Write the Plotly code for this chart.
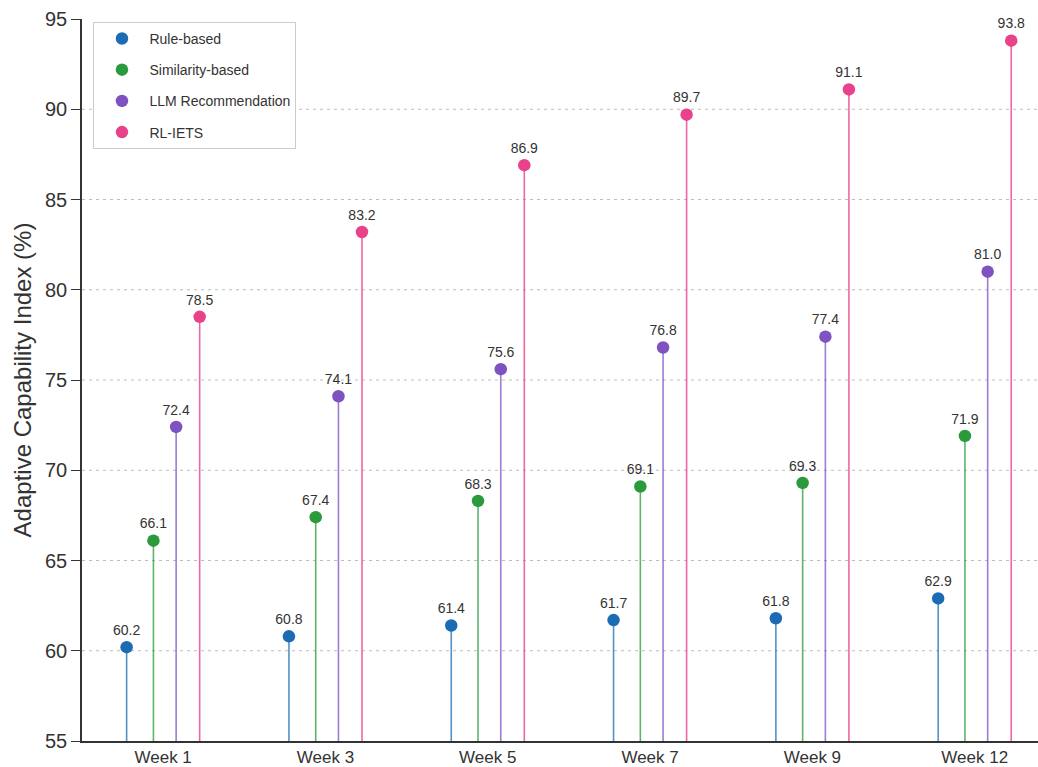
import plotly.graph_objects as go

weeks = ["Week 1", "Week 3", "Week 5", "Week 7", "Week 9", "Week 12"]
series_names = ["Rule-based", "Similarity-based", "LLM Recommendation", "RL-IETS"]
rule_based = [60.2, 60.8, 61.4, 61.7, 61.8, 62.9]
similarity_based = [66.1, 67.4, 68.3, 69.1, 69.3, 71.9]
llm_recommendation = [72.4, 74.1, 75.6, 76.8, 77.4, 81.0]
rl_iets = [78.5, 83.2, 86.9, 89.7, 91.1, 93.8]
y_ticks = [55, 60, 65, 70, 75, 80, 85, 90, 95]

values = [rule_based, similarity_based, llm_recommendation, rl_iets]
marker_colors = ["#1b6cb4", "#2b9a3c", "#7e52c0", "#e8428a"]
stem_colors = ["rgba(27,108,180,0.75)", "rgba(43,154,60,0.75)",
               "rgba(126,82,192,0.75)", "rgba(232,66,138,0.8)"]
offsets = [-0.225, -0.06, 0.08, 0.225]
baseline = 55

fig = go.Figure()
for name, vals, mc, sc, off in zip(series_names, values, marker_colors, stem_colors, offsets):
    xs = [i + off for i in range(len(weeks))]
    # vertical stems from the baseline up to each value
    sx, sy = [], []
    for x, v in zip(xs, vals):
        sx += [x, x, None]
        sy += [baseline, v, None]
    fig.add_trace(go.Scatter(x=sx, y=sy, mode="lines", line=dict(color=sc, width=1.6),
                             showlegend=False, hoverinfo="skip"))
    fig.add_trace(go.Scatter(
        x=xs, y=vals, mode="markers+text", name=name, legendgroup=name,
        marker=dict(color=mc, size=12.5),
        text=[f"{v:.1f}" for v in vals], textposition="top center",
        textfont=dict(size=14, color="#333333", family="Liberation Sans"),
        cliponaxis=False,
    ))

# dashed horizontal grid lines
for g in y_ticks[1:-1]:
    fig.add_shape(type="line", xref="paper", x0=0, x1=1, yref="y", y0=g, y1=g,
                  line=dict(color="#bdbdbd", width=1, dash="3px,4px"), layer="below")

fig.update_layout(
    width=1038, height=767,
    margin=dict(l=82, r=0, t=19, b=26),
    paper_bgcolor="white", plot_bgcolor="white",
    font=dict(family="Liberation Sans", color="#333333"),
    legend=dict(
        x=0.012, y=0.996, xanchor="left", yanchor="top",
        bgcolor="white", bordercolor="#cccccc", borderwidth=1,
        font=dict(size=14, color="#333333"), tracegroupgap=10, itemwidth=45,
    ),
    xaxis=dict(
        range=[-0.5, 5.39], tickmode="array", tickvals=list(range(len(weeks))),
        ticktext=weeks, showgrid=False, zeroline=False,
        showline=True, linecolor="#333333", linewidth=1.5, ticks="",
        tickfont=dict(size=17, color="#333333"),
    ),
    yaxis=dict(
        range=[55, 95], tickmode="array", tickvals=y_ticks, showgrid=False, zeroline=False,
        showline=True, linecolor="#333333", linewidth=1.5, ticks="outside", ticklen=9,
        tickcolor="#333333", tickfont=dict(size=20, color="#333333"),
        title=dict(text="Adaptive Capability Index (%)", font=dict(size=24, color="#333333"),
                   standoff=7),
    ),
)

fig.write_html("out.html")
